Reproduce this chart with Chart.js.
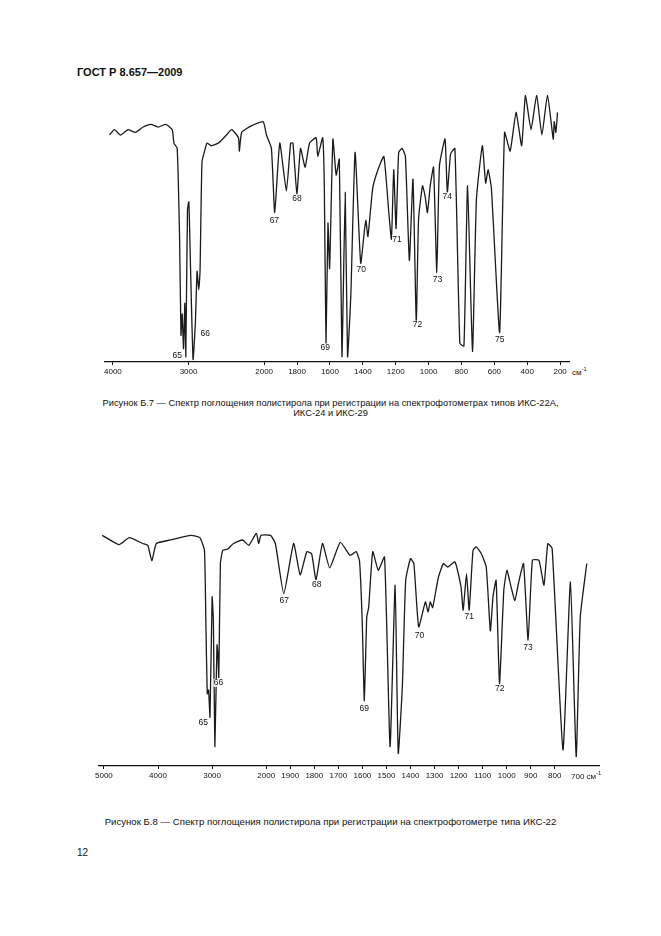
<!DOCTYPE html>
<html>
<head>
<meta charset="utf-8">
<script src="https://cdn.jsdelivr.net/npm/chart.js@4"></script>
<style>
  body { margin: 0; background: #fff; font-family: "Liberation Sans", Arial, sans-serif; color: #111; }
  .page { position: relative; width: 661px; height: 936px; }
  .abs { position: absolute; }
  canvas { position: absolute; }
  .cap { font-size: 9.3px; text-align: center; width: 661px; left: 0; }
</style>
</head>
<body>
<div class="page">
  <div class="abs" style="left:77px;top:66px;font-size:11px;font-weight:bold;">ГОСТ Р 8.657—2009</div>

  <div style="position:absolute;left:102px;top:95px;width:468px;height:287px;"><canvas id="topChart"></canvas></div>
  <div class="abs" style="left:572px;top:366px;font-size:8px;">см<sup style="font-size:6px">-1</sup></div>
  <div class="abs cap" style="top:398px;">Рисунок Б.7 — Спектр поглощения полистирола при регистрации на спектрофотометрах типов ИКС-22А,<br>ИКС-24 и ИКС-29</div>

  <div style="position:absolute;left:93px;top:533px;width:507px;height:253px;"><canvas id="bottomChart"></canvas></div>
  <div class="abs" style="left:571px;top:770px;font-size:8px;background:#fff;">700 см<sup style="font-size:6px">-1</sup></div>
  <div class="abs cap" style="top:816px;font-size:9.6px;">Рисунок Б.8 — Спектр поглощения полистирола при регистрации на спектрофотометре типа ИКС-22</div>

  <div class="abs" style="left:77px;top:847px;font-size:10px;">12</div>
</div>
<script>
// Spectrum B.7 (wavenumber, cm-1 / transmittance, %)
const topWn = [4045, 3980, 3900, 3800, 3700, 3600, 3500, 3400, 3300, 3215, 3193, 3150, 3118, 3100, 3084, 3066, 3049, 3036, 3014, 2996, 2975, 2940, 2909, 2887, 2865, 2848, 2822, 2778, 2756, 2700, 2603, 2500, 2428, 2340, 2328, 2297, 2166, 2013,
  1986, 1956, 1936, 1905, 1865, 1839, 1825, 1801, 1779, 1751, 1724, 1684, 1674, 1644, 1634, 1624, 1612, 1602, 1582, 1562, 1543, 1527, 1507, 1493, 1473, 1447, 1413, 1389, 1381, 1369, 1340, 1308, 1272, 1242, 1226, 1212, 1198, 1182, 1161, 1141, 1117, 1095, 1075, 1061, 1037, 1021, 1007, 990, 970, 950, 934, 900, 886, 866, 840, 810, 785, 763, 733, 709, 673, 653, 638, 618, 568, 538, 504, 468, 434, 411, 377, 343, 311, 277, 242, 236, 226, 216];
const topT = [85, 87, 85, 87, 86, 88, 89, 88, 89, 87, 82, 80, 46, 10, 18, 5, 22, 2, 57, 60, 37, 1, 15, 34, 27, 34, 75, 80, 82, 81, 82, 85, 87, 84, 79, 86, 88.5, 90,
  85, 80, 56, 82, 64, 82, 82, 63, 80, 73, 82, 84, 77, 84, 65, 7, 52, 35, 83.5, 70, 76, 2, 63.5, 2, 25, 78.5, 37, 50, 53, 47, 65, 72, 77, 56, 46, 72, 50, 78.5, 80, 77, 38, 68.5, 15, 53.5, 66, 62, 56, 66, 73, 33.5, 73.5, 83.5, 63.5, 78, 80, 7, 6, 66, 4, 61, 81, 67, 72, 65, 11, 86, 79, 93.5, 81, 100, 87, 100, 85, 100, 83.5, 90, 86, 93.5];
const topPeakNames = ["65", "66", "67", "68", "69", "70", "71", "72", "73", "74", "75"];
const topPeakWn = [3149, 2778, 1938, 1801, 1628, 1409, 1192, 1067, 946, 886, 568];
const topPeakT = [2.2, 10.6, 53, 61, 5.4, 34.6, 46, 14, 30.7, 62, 8.5];
const topTicks = [4000, 3000, 2000, 1800, 1600, 1400, 1200, 1000, 800, 600, 400, 200];

// Spectrum B.8
const botWn = [5030, 4719, 4531, 4281, 4188, 4113, 4031, 3774, 3387, 3226, 3142, 3116, 3090, 3065, 3039, 3000, 2977, 2949, 2910, 2893, 2876, 2847, 2802, 2718, 2605, 2435, 2322, 2181, 2141, 2096, 1982,
  1962, 1927, 1886, 1859, 1831, 1811, 1793, 1766, 1736, 1692, 1651, 1626, 1612, 1601, 1592, 1582, 1574, 1557, 1534, 1508, 1485, 1464, 1451, 1434, 1420, 1400, 1386, 1366, 1338, 1327, 1318, 1308, 1284, 1263, 1245, 1215, 1190, 1181, 1167, 1156, 1140, 1126, 1105, 1085, 1068, 1057, 1044, 1030, 1012, 999, 982, 966, 952, 930, 911, 893, 866, 845, 829, 811, 766, 735, 711, 694, 667];
const botT = [99, 95, 98, 95.5, 94.7, 88, 95.5, 97, 99, 98, 92.6, 62.6, 31, 32.6, 21, 72.6, 62.6, 8.3, 52, 48, 38, 87, 92.6, 93, 95.5, 97, 94.7, 100, 95.5, 99, 99,
  95.5, 74, 95.5, 82, 92, 91, 80, 95.5, 85, 96, 90.4, 92, 88, 62.6, 28, 64, 68, 92, 84, 89.7, 8.3, 77.6, 5.4, 34, 79.7, 89, 86.9, 59.7, 70.4, 66, 70.4, 68, 81, 86.9, 85.4, 87.6, 76.9, 66.9, 82.6, 66.9, 92.6, 94, 91, 85.4, 58, 72.6, 79.7, 35.4, 75.4, 84, 76.9, 71, 78, 86.9, 54, 88.3, 88.3, 77.6, 95.4, 93.3, 6.9, 79, 4, 64, 86.9];
const botPeakNames = ["65", "66", "67", "68", "69", "70", "71", "72", "73"];
const botPeakWn = [3166, 2882, 1925, 1790, 1592, 1363, 1156, 1029, 911];
const botPeakT = [18.7, 35.7, 71, 78, 24.6, 56, 64, 33, 51];
const botTicks = [5000, 4000, 3000, 2000, 1900, 1800, 1700, 1600, 1500, 1400, 1300, 1200, 1100, 1000, 900, 800];

// the spectrometer chart paper compresses the scale above 2000 cm-1
function axisPos(wn, k) {
  return wn <= 2000 ? 2000 - wn : -(wn - 2000) * k;
}

const peakLabels = {
  id: "peakLabels",
  afterDatasetsDraw(chart, args, opts) {
    const { ctx, scales } = chart;
    ctx.save();
    ctx.font = "8.5px 'Liberation Sans', Arial, sans-serif";
    ctx.textAlign = "center";
    ctx.textBaseline = "middle";
    opts.names.forEach((n, i) => {
      const x = scales.x.getPixelForValue(axisPos(opts.wn[i], opts.k));
      const y = scales.y.getPixelForValue(opts.t[i]);
      ctx.fillStyle = "#fff";
      ctx.fillRect(x - 5, y - 4, 10, 8);
      ctx.fillStyle = "#111";
      ctx.fillText(n, x, y);
    });
    ctx.restore();
  }
};

function makeSpectrum(id, wn, t, k, ticks, xMin, xMax, peaks) {
  const points = wn.map((w, i) => ({ x: axisPos(w, k), y: t[i] }));
  return new Chart(document.getElementById(id), {
    type: "line",
    data: {
      datasets: [{
        data: points,
        borderColor: "#1a1a1a",
        borderWidth: 1.3,
        pointRadius: 0,
        tension: 0.15,
        clip: false
      }]
    },
    options: {
      responsive: true,
      maintainAspectRatio: false,
      animation: false,
      layout: { padding: 0 },
      plugins: { legend: { display: false }, tooltip: { enabled: false }, peakLabels: peaks },
      scales: {
        x: {
          type: "linear",
          min: xMin,
          max: xMax,
          afterFit(s) { s.height = 20; },
          afterBuildTicks(s) { s.ticks = ticks.map(w => ({ value: axisPos(w, k) })); },
          ticks: {
            autoSkip: false,
            maxRotation: 0,
            padding: 2,
            color: "#111",
            font: { size: 8, family: "'Liberation Sans', Arial, sans-serif" },
            callback(v, i) { return String(ticks[i]); }
          },
          grid: { drawOnChartArea: false, tickLength: 3, color: "#111" },
          border: { color: "#111", width: 1.2 }
        },
        y: { display: false, min: 0, max: 100 }
      }
    },
    plugins: [peakLabels]
  });
}

makeSpectrum("topChart", topWn, topT, 0.46, topTicks, -968, 1860,
  { names: topPeakNames, wn: topPeakWn, t: topPeakT, k: 0.46 });
makeSpectrum("bottomChart", botWn, botT, 0.225, botTicks, -697, 1388,
  { names: botPeakNames, wn: botPeakWn, t: botPeakT, k: 0.225 });
</script>
</body>
</html>
